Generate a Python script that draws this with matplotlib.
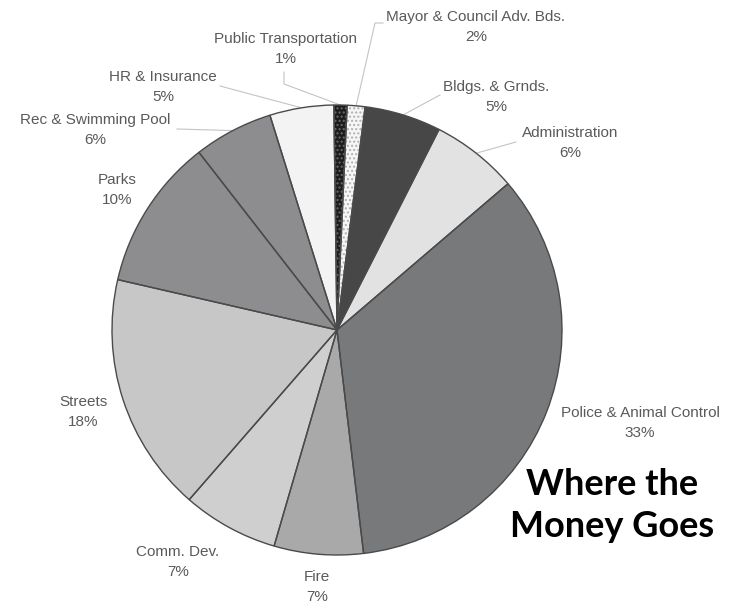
import matplotlib
matplotlib.use("Agg")
import matplotlib.pyplot as plt
import numpy as np

# Data (clockwise from top); shares measured from slice angles, labels as printed
categories = ["Public Transportation", "Mayor & Council Adv. Bds.", "Bldgs. & Grnds.",
              "Administration", "Police & Animal Control", "Fire", "Comm. Dev.",
              "Streets", "Parks", "Rec & Swimming Pool", "HR & Insurance"]
shares = [0.94, 1.28, 5.5, 6.25, 34.4, 6.4, 6.9, 17.2, 10.9, 5.7, 4.6]
pct_labels = ["1%", "2%", "5%", "6%", "33%", "7%", "7%", "18%", "10%", "6%", "5%"]

colors = ["#1c1c1c", "#f6f6f6", "#474747", "#e2e2e2", "#78797b", "#a9a9aa",
          "#cfcfd0", "#c7c7c8", "#8d8d8f", "#8d8d8f", "#f3f3f3"]
hatches = ["....", "....", None, None, None, None, None, None, None, None, None]
hatch_cols = ["#6a6a6a", "#b0b0b0", "none", "none", "none", "none", "none", "none", "none", "none", "none"]

W, H = 739, 604
fig = plt.figure(figsize=(W / 100, H / 100), dpi=100)
ax = fig.add_axes([0, 0, 1, 1])
ax.set_xlim(0, W)
ax.set_ylim(0, H)
ax.set_aspect("equal")
ax.axis("off")

cx, cy, R = 337, H - 330, 225
start = 90.8

# fill with hatch
wedges, _ = ax.pie(shares, colors=colors, startangle=start, counterclock=False,
                   center=(cx, cy), radius=R, frame=True,
                   wedgeprops=dict(linewidth=0))
for w, h, hc in zip(wedges, hatches, hatch_cols):
    if h:
        w.set_hatch(h)
        w.set_edgecolor(hc)
# outlines
wedges2, _ = ax.pie(shares, colors=["none"] * len(shares), startangle=start, counterclock=False,
                    center=(cx, cy), radius=R, frame=True,
                    wedgeprops=dict(linewidth=1.0, edgecolor="#4a4a4a", facecolor="none"))
ax.set_xlim(0, W)
ax.set_ylim(0, H)
ax.axis("off")

# label positions (image coords: center x, first-line y)
label_pos = {
    "Public Transportation": (286, 39),
    "Mayor & Council Adv. Bds.": (476, 17),
    "Bldgs. & Grnds.": (496, 87),
    "Administration": (570, 133),
    "Police & Animal Control": (640, 413),
    "Fire": (317, 577),
    "Comm. Dev.": (178, 552),
    "Streets": (83, 402),
    "Parks": (117, 180),
    "Rec & Swimming Pool": (95, 120),
    "HR & Insurance": (163, 77),
}
txt_col = "#5a5a5a"
fs = 11
for cat, pct in zip(categories, pct_labels):
    x, y = label_pos[cat]
    ax.text(x, H - y, cat, ha="center", va="center", fontsize=fs,
            family="Liberation Sans", color=txt_col)
    ax.text(x, H - y - 20, pct, ha="center", va="center", fontsize=fs,
            family="Liberation Sans", color=txt_col)

# leader lines: (label-side points) -> wedge edge at mid-angle
leaders = {
    "Public Transportation": [(284, 72), (284, 84)],
    "Mayor & Council Adv. Bds.": [(383, 23), (375, 23)],
    "Bldgs. & Grnds.": [(440, 95)],
    "Administration": [(516, 142)],
    "HR & Insurance": [(220, 86)],
    "Rec & Swimming Pool": [(177, 129)],
}
for cat, pts in leaders.items():
    i = categories.index(cat)
    w = wedges[i]
    mid = np.deg2rad((w.theta1 + w.theta2) / 2)
    ex, ey = cx + R * np.cos(mid), cy + R * np.sin(mid)
    xs = [p[0] for p in pts] + [ex]
    ys = [H - p[1] for p in pts] + [ey]
    ax.plot(xs, ys, color="#c4c4c4", lw=0.8, zorder=0.5)

# title
ax.text(612, H - 495, "Where the", ha="center", va="baseline", fontsize=26,
        fontweight="bold", family="Lato", color="black")
ax.text(612, H - 537, "Money Goes", ha="center", va="baseline", fontsize=26,
        fontweight="bold", family="Lato", color="black")

fig.savefig("out.png", dpi=100)
